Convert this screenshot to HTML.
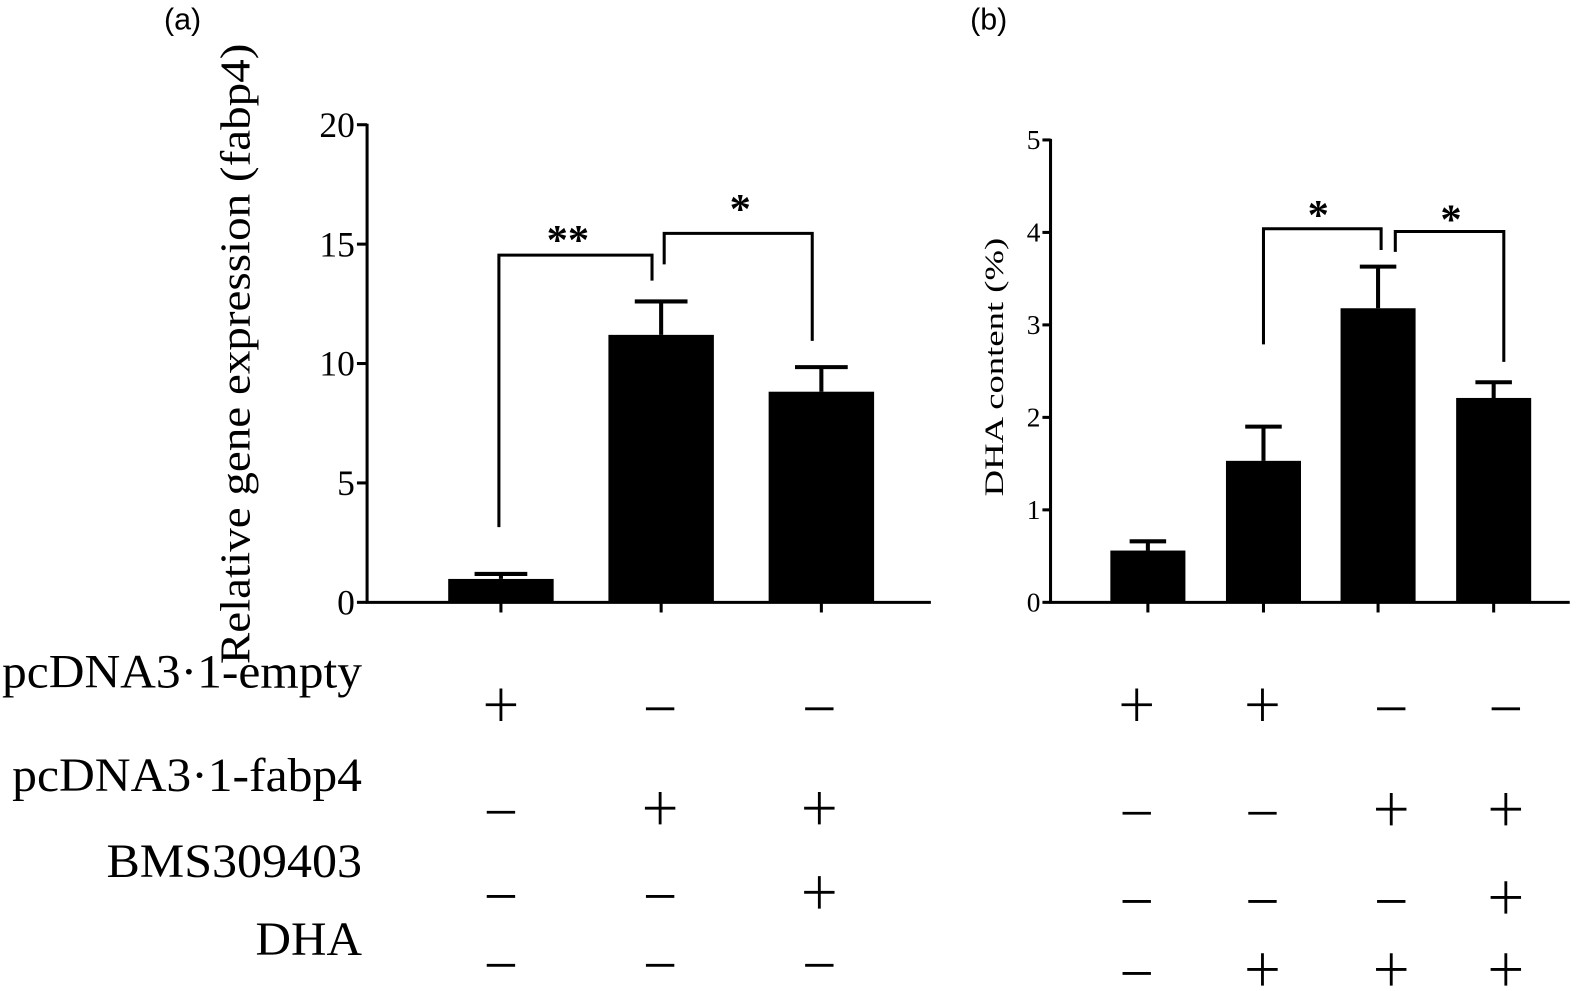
<!DOCTYPE html>
<html><head><meta charset="utf-8"><style>
html,body{margin:0;padding:0;background:#fff;}
svg{display:block;font-family:"Liberation Serif",serif;}
</style></head><body>
<svg id="fig" width="1590" height="991" viewBox="0 0 1590 991">
<g transform="scale(1.01403)">
<text x="180" y="29" font-family="Liberation Sans, sans-serif" font-size="30" text-anchor="middle">(a)</text>
<text x="975" y="29" font-family="Liberation Sans, sans-serif" font-size="30" text-anchor="middle">(b)</text>
<g id="ga"></g>
<g id="gb"></g>
<g id="table"></g>
</g>
</svg>
<script>
const NS="http://www.w3.org/2000/svg";
// Panel A data
const catsA=["empty","fabp4","fabp4+BMS"];
const valsA=[0.98,11.2,8.82];
const errA=[1.19,12.6,9.85];
const ticksA=[0,5,10,15,20];
// Panel B data
const catsB=["empty","empty+DHA","fabp4+DHA","fabp4+BMS+DHA"];
const valsB=[0.56,1.53,3.18,2.21];
const errB=[0.66,1.90,3.63,2.38];
const ticksB=[0,1,2,3,4,5];
// Treatment table (1 = +, 0 = -)
const rowLabels=["pcDNA3·1-empty","pcDNA3·1-fabp4","BMS309403","DHA"];
const signsA=[[1,0,0],[0,1,1],[0,0,1],[0,0,0]];
const signsB=[[1,1,0,0],[0,0,1,1],[0,0,0,1],[0,1,1,1]];

function mk(parent,tag,attrs,text){const e=document.createElementNS(NS,tag);for(const k in attrs)e.setAttribute(k,attrs[k]);if(text!==undefined)e.textContent=text;parent.appendChild(e);return e;}

// Panel A
const ga=document.getElementById('ga');
const yA=v=>594-v*(471/20);
const xA=i=>[494,652,810][i];
const bwA=104;
mk(ga,'line',{x1:362,y1:yA(20)-1,x2:362,y2:595,stroke:'#000','stroke-width':3});
mk(ga,'line',{x1:361,y1:594,x2:918,y2:594,stroke:'#000','stroke-width':3});
ticksA.forEach(t=>{
  const l=mk(ga,'line',{x1:352,y1:yA(t),x2:362,y2:yA(t),stroke:'#000','stroke-width':3});
  
  
  const tx=mk(ga,'text',{x:350,y:yA(t)+12,'font-size':35,'text-anchor':'end'},String(t));
  
  
});
catsA.forEach((c,i)=>{
  const cx=xA(i);
  const tk=mk(ga,'line',{x1:cx,y1:594,x2:cx,y2:604,stroke:'#000','stroke-width':3});
  
  
  const r=mk(ga,'rect',{x:cx-bwA/2,y:yA(valsA[i]),width:bwA,height:594-yA(valsA[i]),fill:'#000'});
  
  
  const e=mk(ga,'path',{d:`M${cx},${yA(valsA[i])}V${yA(errA[i])}M${cx-26},${yA(errA[i])}H${cx+26}`,stroke:'#000','stroke-width':4,fill:'none'});
  
  
});
function bracket(g,yf,x1,y1,x2,y2,yt,sx,sy,star){
  const p=mk(g,'path',{d:`M${x1},${yf(y1)}V${yf(yt)}H${x2}V${yf(y2)}`,stroke:'#000','stroke-width':3,fill:'none'});
  
  
  const s=mk(g,'text',{x:sx,y:yf(sy)+24,'font-size':42,'font-weight':'bold','text-anchor':'middle'},star);
  
  
}
bracket(ga,yA,492,3.15,643,13.47,14.54,560,15.6,'**');
bracket(ga,yA,655,14.15,801,10.95,15.45,730,16.9,'*');
const ta=mk(ga,'text',{x:0,y:0,'font-size':42,'text-anchor':'middle',transform:'translate(246,349) rotate(-90)',textLength:612,lengthAdjust:'spacingAndGlyphs'},'Relative gene expression (fabp4)');



// Panel B
const gb=document.getElementById('gb');
const yB=v=>594-v*(456/5);
const xB=i=>[1132,1246,1359,1473][i];
const bwB=74;
mk(gb,'line',{x1:1036,y1:yB(5)-1,x2:1036,y2:595,stroke:'#000','stroke-width':3});
mk(gb,'line',{x1:1035,y1:594,x2:1548,y2:594,stroke:'#000','stroke-width':3});
ticksB.forEach(t=>{
  const l=mk(gb,'line',{x1:1028,y1:yB(t),x2:1036,y2:yB(t),stroke:'#000','stroke-width':3});
  
  
  const tx=mk(gb,'text',{x:1026,y:yB(t)+9,'font-size':27,'text-anchor':'end'},String(t));
  
  
});
catsB.forEach((c,i)=>{
  const cx=xB(i);
  const tk=mk(gb,'line',{x1:cx,y1:594,x2:cx,y2:604,stroke:'#000','stroke-width':3});
  
  
  const r=mk(gb,'rect',{x:cx-bwB/2,y:yB(valsB[i]),width:bwB,height:594-yB(valsB[i]),fill:'#000'});
  
  
  const e=mk(gb,'path',{d:`M${cx},${yB(valsB[i])}V${yB(errB[i])}M${cx-18},${yB(errB[i])}H${cx+18}`,stroke:'#000','stroke-width':4,fill:'none'});
  
  
});
bracket(gb,yB,1246,2.79,1362,3.81,4.04,1300,4.3,'*');
bracket(gb,yB,1376,3.79,1483,2.6,4.01,1431,4.25,'*');
const tb=mk(gb,'text',{x:0,y:0,'font-size':26,'text-anchor':'middle',transform:'translate(989,362) rotate(-90)',textLength:255,lengthAdjust:'spacingAndGlyphs'},'DHA content (%)');



// Table
const tg=document.getElementById('table');
const labelY=[678,780,865,942];
const labelW=[355,345,252,105];
rowLabels.forEach((lab,r)=>{
  const t=mk(tg,'text',{x:357,y:labelY[r],'font-size':47,'text-anchor':'end',textLength:labelW[r],lengthAdjust:'spacingAndGlyphs'},lab);
  
  
});
const rowSignYA=[695,797,880,948];
const rowSignYB=[695,798,885,956];
function sign(x,y,plus){
  const d=plus?`M${x-15},${y}H${x+15}M${x},${y-16}V${y+16}`:`M${x-14},${y+4}H${x+14}`;
  const p=mk(tg,'path',{d:d,stroke:'#000','stroke-width':2.8,fill:'none'});
  
  
}
const colA=[494,651,808], colB=[1121,1245,1372,1485];
signsA.forEach((row,r)=>row.forEach((s,c)=>sign(colA[c],rowSignYA[r],s===1)));
signsB.forEach((row,r)=>row.forEach((s,c)=>sign(colB[c],rowSignYB[r],s===1)));
</script>
</body></html>
